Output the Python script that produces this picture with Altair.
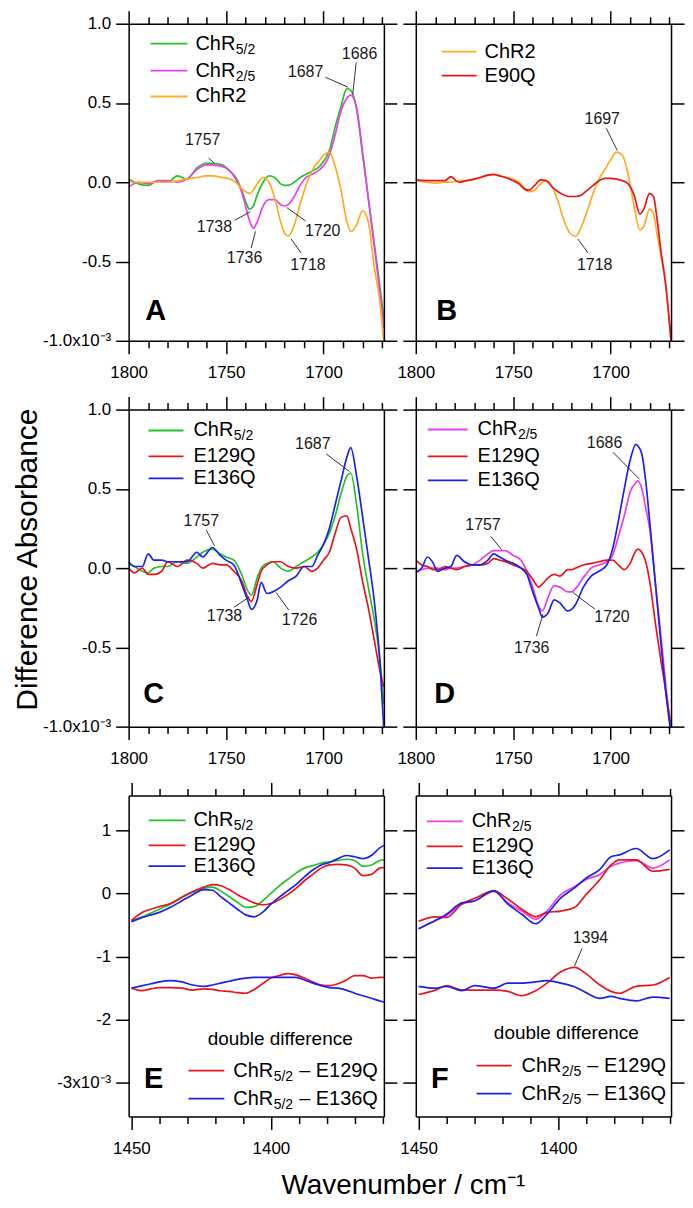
import altair as alt
import pandas as pd

FONT = "Liberation Sans"

# ---------------- data (difference absorbance, x10^-3) ----------------
# Panel A
A_WN = [1800, 1795, 1790, 1785, 1780, 1775, 1770, 1765, 1760, 1757, 1752, 1748, 1745, 1742, 1740, 1738, 1736,
        1734, 1731, 1728, 1725, 1722, 1720, 1718, 1715, 1712, 1709, 1706, 1702, 1699, 1697, 1694, 1691, 1688,
        1686, 1683, 1680, 1677, 1674, 1671, 1669]
A_CHR52 = [0.02, -0.01, -0.02, 0.01, 0.0, 0.04, 0.02, 0.09, 0.12, 0.12, 0.11, 0.07, 0.03, -0.05, -0.12, -0.17,
           -0.15, -0.08, 0.0, 0.04, 0.03, -0.01, -0.02, -0.02, 0.0, 0.03, 0.05, 0.07, 0.1, 0.15, 0.2, 0.35, 0.48,
           0.59, 0.58, 0.46, 0.18, -0.1, -0.38, -0.66, -0.86]
A_CHR25 = [-0.03, 0.0, -0.01, 0.01, 0.01, 0.0, 0.02, 0.08, 0.11, 0.11, 0.1, 0.07, 0.02, -0.06, -0.15, -0.24,
           -0.29, -0.25, -0.15, -0.11, -0.11, -0.14, -0.15, -0.14, -0.09, -0.02, 0.03, 0.05, 0.08, 0.12, 0.17,
           0.3, 0.45, 0.53, 0.55, 0.47, 0.2, -0.1, -0.4, -0.7, -0.92]
A_CHR2 = [0.0, 0.0, 0.0, 0.0, 0.0, 0.01, 0.02, 0.03, 0.04, 0.04, 0.03, 0.02, 0.0, -0.04, -0.06, -0.07, -0.05,
          -0.01, 0.03, 0.0, -0.1, -0.25, -0.32, -0.34, -0.27, -0.14, -0.02, 0.07, 0.14, 0.18, 0.19, 0.1, -0.05,
          -0.25, -0.31, -0.27, -0.18, -0.25, -0.53, -0.76, -1.02]

# Panel B
B_WN = [1800, 1795, 1790, 1785, 1782, 1778, 1774, 1770, 1766, 1763, 1760, 1757, 1753, 1750, 1747, 1744, 1742,
        1739, 1736, 1733, 1730, 1727, 1724, 1721, 1718, 1715, 1712, 1709, 1706, 1703, 1700, 1697, 1694, 1691,
        1688, 1685, 1683, 1680, 1678, 1676, 1674, 1672, 1669]
B_CHR2 = [0.015, 0.0, -0.005, 0.0, 0.0, 0.01, 0.01, 0.02, 0.03, 0.045, 0.048, 0.04, 0.03, 0.02, 0.0, -0.04,
          -0.06, -0.05, -0.01, 0.01, -0.03, -0.12, -0.24, -0.32, -0.34, -0.28, -0.18, -0.07, 0.02, 0.08, 0.14,
          0.19, 0.17, 0.05, -0.15, -0.3, -0.28, -0.17, -0.2, -0.34, -0.48, -0.62, -1.0]
B_E90Q = [0.015, 0.01, 0.01, 0.01, 0.035, 0.0, 0.01, 0.02, 0.035, 0.045, 0.05, 0.04, 0.025, 0.01, -0.01, -0.045,
          -0.05, -0.02, 0.015, 0.01, -0.03, -0.06, -0.08, -0.09, -0.09, -0.08, -0.05, -0.02, 0.01, 0.025, 0.025,
          0.02, 0.01, -0.01, -0.08, -0.2, -0.17, -0.07, -0.09, -0.25, -0.45, -0.62, -1.0]

# Panel C
C_WN = [1800, 1797, 1793, 1790, 1787, 1783, 1780, 1775, 1770, 1765, 1762, 1757, 1753, 1750, 1746, 1742, 1739,
        1737, 1734, 1732, 1729, 1726, 1722, 1718, 1714, 1710, 1706, 1703, 1700, 1697, 1694, 1691, 1688, 1686,
        1683, 1680, 1677, 1674, 1671, 1669]
C_CHR52 = [0.03, 0.01, -0.02, -0.03, 0.0, 0.01, 0.01, 0.04, 0.03, 0.07, 0.1, 0.12, 0.09, 0.07, 0.05, -0.04,
           -0.14, -0.17, -0.06, 0.0, 0.03, 0.04, 0.0, -0.02, 0.01, 0.04, 0.07, 0.1, 0.15, 0.22, 0.33, 0.47, 0.58,
           0.6, 0.4, 0.1, -0.12, -0.32, -0.58, -0.86]
C_E129Q = [0.0, -0.03, 0.0, -0.04, -0.04, -0.02, 0.04, 0.01, 0.05, 0.03, 0.0, 0.03, 0.02, 0.02, -0.02, -0.08,
           -0.18, -0.21, -0.1, -0.02, 0.02, 0.04, 0.04, 0.01, 0.0, 0.01, -0.02, 0.0, 0.05, 0.1, 0.22, 0.32, 0.33,
           0.25, 0.12, -0.08, -0.25, -0.45, -0.65, -0.75]
C_E136Q = [0.04, 0.01, 0.01, 0.09, 0.05, 0.05, 0.04, 0.04, 0.04, 0.1, 0.07, 0.13, 0.08, 0.05, 0.02, -0.1, -0.2,
           -0.26, -0.2, -0.09, -0.16, -0.15, -0.12, -0.08, -0.05, 0.01, 0.01, 0.08, 0.15, 0.25, 0.4, 0.55, 0.7,
           0.76, 0.58, 0.33, 0.07, -0.2, -0.6, -1.02]

# Panel D
D_WN = [1800, 1797, 1794, 1791, 1789, 1785, 1782, 1779, 1775, 1771, 1767, 1763, 1760, 1757, 1754, 1750, 1746,
        1743, 1740, 1737, 1735, 1732, 1729, 1726, 1722, 1720, 1718, 1714, 1710, 1706, 1702, 1699, 1696, 1693,
        1690, 1687, 1686, 1684, 1682, 1680, 1677, 1674, 1672, 1669]
D_CHR25 = [-0.02, -0.01, 0.0, 0.0, 0.0, -0.01, 0.0, 0.0, 0.01, 0.02, 0.05, 0.09, 0.11, 0.11, 0.11, 0.08, 0.05,
           -0.02, -0.12, -0.24, -0.27, -0.18, -0.11, -0.12, -0.15, -0.15, -0.13, -0.06, 0.0, 0.02, 0.04, 0.08,
           0.2, 0.33, 0.48, 0.54, 0.55, 0.5, 0.38, 0.25, -0.1, -0.45, -0.7, -1.05]
D_E129Q = [0.05, 0.02, 0.01, -0.01, -0.01, 0.01, 0.0, -0.01, 0.01, 0.02, 0.02, 0.03, 0.06, 0.05, 0.04, 0.02, 0.0,
           -0.02, -0.07, -0.12, -0.1, -0.06, -0.04, -0.05, -0.01, -0.01, 0.0, 0.02, 0.03, 0.04, 0.05, 0.05, 0.02,
           -0.01, 0.03, 0.11, 0.12, 0.1, 0.04, -0.08, -0.35, -0.6, -0.75, -1.0]
D_E136Q = [-0.03, 0.0, 0.07, 0.03, -0.02, 0.0, 0.01, 0.08, 0.04, 0.02, 0.02, 0.05, 0.09, 0.07, 0.05, 0.03, 0.0,
           -0.04, -0.15, -0.25, -0.31, -0.28, -0.2, -0.22, -0.27, -0.26, -0.23, -0.12, -0.05, -0.02, 0.02, 0.12,
           0.3, 0.5, 0.68, 0.78, 0.77, 0.72, 0.55, 0.3, -0.1, -0.5, -0.75, -1.05]

# Panel E
E_WN = [1450, 1446, 1443, 1440, 1436, 1432, 1428, 1424, 1421, 1418, 1415, 1412, 1409, 1406, 1403, 1400, 1397,
        1394, 1391, 1388, 1385, 1382, 1379, 1376, 1373, 1370, 1367, 1364, 1361, 1359.5]
E_CHR52 = [-0.43, -0.37, -0.31, -0.25, -0.17, -0.07, 0.02, 0.08, 0.1, 0.04, -0.05, -0.14, -0.22, -0.21, -0.12,
           0.0, 0.12, 0.22, 0.32, 0.4, 0.44, 0.48, 0.5, 0.52, 0.54, 0.52, 0.43, 0.45, 0.52, 0.53]
E_E129Q = [-0.43, -0.3, -0.25, -0.21, -0.16, -0.06, 0.03, 0.1, 0.14, 0.12, 0.06, -0.02, -0.09, -0.15, -0.18,
           -0.16, -0.1, -0.02, 0.08, 0.2, 0.3, 0.4, 0.45, 0.46, 0.45, 0.4, 0.28, 0.3, 0.4, 0.41]
E_E136Q = [-0.45, -0.38, -0.34, -0.3, -0.22, -0.12, -0.02, 0.06, 0.05, -0.05, -0.15, -0.25, -0.34, -0.37, -0.3,
           -0.17, -0.06, 0.04, 0.14, 0.26, 0.37, 0.45, 0.49, 0.55, 0.6, 0.58, 0.55, 0.6, 0.72, 0.76]
E_DD129 = [-1.5, -1.54, -1.51, -1.49, -1.49, -1.5, -1.53, -1.51, -1.52, -1.54, -1.55, -1.57, -1.58, -1.52, -1.43,
           -1.34, -1.3, -1.27, -1.29, -1.34, -1.4, -1.45, -1.46, -1.43, -1.37, -1.3, -1.3, -1.34, -1.33, -1.33]
E_DD136 = [-1.5, -1.46, -1.43, -1.4, -1.38, -1.4, -1.45, -1.47, -1.45, -1.42, -1.39, -1.36, -1.34, -1.33, -1.33,
           -1.33, -1.33, -1.33, -1.33, -1.37, -1.42, -1.46, -1.49, -1.5, -1.53, -1.58, -1.62, -1.66, -1.7, -1.72]

# Panel F
F_WN = [1450, 1444, 1440, 1434.5, 1430, 1423, 1418, 1413, 1408, 1404, 1399, 1394, 1390, 1385, 1381, 1378, 1372,
        1366, 1360]
F_CHR25 = [-0.56, -0.43, -0.35, -0.17, -0.12, 0.03, -0.15, -0.28, -0.41, -0.28, -0.02, 0.11, 0.22, 0.3, 0.43,
           0.48, 0.52, 0.4, 0.53]
F_E129Q = [-0.44, -0.37, -0.38, -0.17, -0.08, 0.04, -0.09, -0.25, -0.37, -0.3, -0.28, -0.22, -0.02, 0.22, 0.45,
           0.53, 0.53, 0.35, 0.38]
F_E136Q = [-0.56, -0.43, -0.33, -0.15, -0.12, 0.04, -0.17, -0.33, -0.48, -0.33, -0.07, 0.09, 0.24, 0.38, 0.58,
           0.61, 0.71, 0.55, 0.69]
F_DD129 = [-1.6, -1.53, -1.46, -1.53, -1.53, -1.53, -1.55, -1.62, -1.54, -1.42, -1.24, -1.17, -1.27, -1.45,
           -1.55, -1.58, -1.47, -1.45, -1.33]
F_DD136 = [-1.47, -1.5, -1.47, -1.54, -1.46, -1.5, -1.42, -1.42, -1.4, -1.38, -1.42, -1.48, -1.57, -1.66, -1.63,
           -1.66, -1.7, -1.64, -1.66]

# peak labels: label, text wn, text value, leader start wn/value, leader end wn/value
A_ANN = [("1757", 1762, 0.266, 1759, 0.152, 1756, 0.12),
         ("1738", 1756, -0.28, 1745.6, -0.24, 1737.6, -0.186),
         ("1736", 1740.5, -0.477, 1737.1, -0.414, 1734.9, -0.31),
         ("1718", 1708, -0.52, 1711.5, -0.446, 1716.6, -0.358),
         ("1720", 1700.4, -0.31, 1709.2, -0.244, 1718.8, -0.16),
         ("1687", 1709.2, 0.694, 1699, 0.6625, 1687.5, 0.6),
         ("1686", 1681.5, 0.808, 1683.2, 0.756, 1685, 0.554)]
B_ANN = [("1697", 1704.3, 0.40, 1702.2, 0.34, 1696.6, 0.2),
         ("1718", 1708.2, -0.525, 1711.6, -0.446, 1716.8, -0.358)]
C_ANN = [("1757", 1762.7, 0.30, 1760.2, 0.24, 1755.9, 0.14),
         ("1738", 1750.8, -0.30, 1746, -0.248, 1737.9, -0.18),
         ("1726", 1712.3, -0.33, 1717.8, -0.265, 1724.3, -0.154),
         ("1687", 1705.5, 0.78, 1698.6, 0.72, 1686.7, 0.61)]
D_ANN = [("1757", 1765.5, 0.27, 1761.5, 0.2, 1756, 0.117),
         ("1686", 1703.1, 0.79, 1698.8, 0.731, 1685.1, 0.56),
         ("1720", 1699.3, -0.31, 1708.2, -0.258, 1719.3, -0.154),
         ("1736", 1740.5, -0.506, 1738.1, -0.43, 1734.7, -0.29)]
F_ANN = [("1394", 1388.4, -0.71, 1391.4, -0.87, 1394.1, -1.15)]

# axis ticks / labels
TOP_X_MAJOR = [1800, 1750, 1700]
TOP_X_MINOR = [1790, 1780, 1770, 1760, 1740, 1730, 1720, 1710, 1690, 1680, 1670]
BOT_X_MAJOR = [1450, 1400]
BOT_X_MINOR = [1440, 1430, 1420, 1410, 1390, 1380, 1370, 1360]
TOP_Y_TICKS = [1.0, 0.5, 0.0, -0.5, -1.0]
TOP_Y_LABELS = ["1.0", "0.5", "0.0", "-0.5", "-1.0x10⁻³"]
BOT_Y_TICKS = [1, 0, -1, -2, -3]
BOT_Y_LABELS = ["1", "0", "-1", "-2", "-3x10⁻³"]

# ---------------- styling ----------------
GREEN, MAGENTA, ORANGE, RED, BLUE = "#22c32a", "#ec3cec", "#ffab21", "#e8161c", "#1c22e8"
SERIES_COLORS = {
    "ChR5/2": GREEN, "ChR2/5": MAGENTA, "ChR2": ORANGE, "E90Q": RED, "E129Q": RED, "E136Q": BLUE,
    "ChR5/2 – E129Q": RED, "ChR5/2 – E136Q": BLUE, "ChR2/5 – E129Q": RED, "ChR2/5 – E136Q": BLUE,
}
COLOR_SCALE = alt.Scale(domain=list(SERIES_COLORS), range=list(SERIES_COLORS.values()))

W = 256
AX = dict(domainColor="black", domainWidth=1.5, tickColor="black", tickWidth=1.5, grid=False,
          labelFont=FONT, labelFontSize=17, labelColor="black", zindex=1)
LEG_FS, SUB_FS, ANN_FS = 20, 14, 16
EM = {"C": 0.722, "h": 0.556, "R": 0.722, "E": 0.667, "Q": 0.778, "/": 0.278, " ": 0.278, "–": 0.556}
for _d in "0123456789":
    EM[_d] = 0.556
ONE = pd.DataFrame({"k": [0]})


def text_w(s, fs):
    return sum(EM.get(ch, 0.556) for ch in s) * fs


def long_df(wn, series):
    rows = []
    for name, vals in series:
        for w, v in zip(wn, vals):
            rows.append({"wn": w, "val": v, "series": name})
    return pd.DataFrame(rows)


def label_expr(vals, labels):
    parts = "".join(f"abs(datum.value - ({v})) < 1e-6 ? '{l}' : " for v, l in zip(vals, labels))
    return parts + "''"


def legend_layers(entries, rows, lx0, lx1, tx):
    out = []
    for (key, main, sub, rest), yy in zip(entries, rows):
        out.append(alt.Chart(ONE).mark_rule(color=SERIES_COLORS[key], strokeWidth=1.8).encode(
            x=alt.value(lx0), x2=alt.value(lx1), y=alt.value(yy)))
        out.append(alt.Chart(ONE).mark_text(align="left", baseline="middle", font=FONT, fontSize=LEG_FS,
                                            color="black").encode(
            x=alt.value(tx), y=alt.value(yy), text=alt.value(main)))
        xx = tx + text_w(main, LEG_FS)
        if sub:
            out.append(alt.Chart(ONE).mark_text(align="left", baseline="middle", font=FONT, fontSize=SUB_FS,
                                                color="black").encode(
                x=alt.value(xx + 0.5), y=alt.value(yy + 6), text=alt.value(sub)))
            xx += text_w(sub, SUB_FS) + 1
        if rest:
            out.append(alt.Chart(ONE).mark_text(align="left", baseline="middle", font=FONT, fontSize=LEG_FS,
                                                color="black").encode(
                x=alt.value(xx + text_w(" ", LEG_FS)), y=alt.value(yy), text=alt.value(rest)))
    return out


def make_panel(df, xdom, xmaj, xmin, ydom, ymaj, ylabels, height, left_labels, ann, legend, letter,
               extra=None, ytitle=None, xtitle=None):
    xs = alt.Scale(domain=xdom, reverse=True, nice=False, zero=False)
    ys = alt.Scale(domain=ydom, nice=False, zero=False)

    xb = dict(orient="bottom", values=xmaj, format="d", tickSize=13, labelPadding=11, labelFlush=False,
              labelOverlap=False, **AX)
    if xtitle:
        xb.update(title=xtitle, titleX=275, titleY=77, titleFont=FONT, titleFontSize=28,
                  titleFontWeight="normal", titleAlign="center", titleBaseline="alphabetic", titleAngle=0,
                  titleColor="black")
    else:
        xb["title"] = None
    yl = dict(orient="left", values=ymaj, tickSize=13, labelPadding=5, labelFlush=False, labelOverlap=False, **AX)
    if left_labels:
        yl["labelExpr"] = label_expr(ymaj, ylabels)
    else:
        yl["labels"] = False
    if ytitle:
        yl.update(title=ytitle, titleX=-86, titleY=150, titleFont=FONT, titleFontSize=30,
                  titleFontWeight="normal", titleAlign="center", titleBaseline="bottom", titleAngle=270,
                  titleColor="black")
    else:
        yl["title"] = None

    lines = alt.Chart(df).mark_line(strokeWidth=1.7, clip=True, interpolate="monotone").encode(
        x=alt.X("wn:Q", scale=xs, axis=alt.Axis(**xb)),
        y=alt.Y("val:Q", scale=ys, axis=alt.Axis(**yl)),
        color=alt.Color("series:N", scale=COLOR_SCALE, legend=None),
    )
    ghost = alt.Chart(df).mark_line(strokeOpacity=0, clip=True)
    g1 = ghost.encode(
        x=alt.X("wn:Q", scale=xs, axis=alt.Axis(orient="bottom", values=xmin, tickSize=7, labels=False,
                                                domain=False, title=None, **AX)),
        y=alt.Y("val:Q", scale=ys, axis=alt.Axis(orient="right", values=ymaj, tickSize=13, labels=False,
                                                 title=None, **AX)),
        detail="series:N")
    g2 = ghost.encode(
        x=alt.X("wn:Q", scale=xs, axis=alt.Axis(orient="top", values=xmaj, tickSize=13, labels=False,
                                                title=None, **AX)),
        y=alt.Y("val:Q", scale=ys, axis=None), detail="series:N")
    g3 = ghost.encode(
        x=alt.X("wn:Q", scale=xs, axis=alt.Axis(orient="top", values=xmin, tickSize=7, labels=False,
                                                domain=False, title=None, **AX)),
        y=alt.Y("val:Q", scale=ys, axis=None), detail="series:N")

    layers = [lines, g1, g2, g3]
    if ann:
        adf = pd.DataFrame(ann, columns=["label", "tx", "ty", "x1", "y1", "x2", "y2"])
        layers.append(alt.Chart(adf).mark_rule(color="#333333", strokeWidth=1).encode(
            x=alt.X("x1:Q", scale=xs, axis=None), x2="x2:Q",
            y=alt.Y("y1:Q", scale=ys, axis=None), y2="y2:Q"))
        layers.append(alt.Chart(adf).mark_text(font=FONT, fontSize=ANN_FS, color="#1a1a1a").encode(
            x=alt.X("tx:Q", scale=xs, axis=None), y=alt.Y("ty:Q", scale=ys, axis=None), text="label:N"))
    layers += legend_layers(*legend)
    if extra:
        layers += extra
    lx, ly, lt = letter
    layers.append(alt.Chart(ONE).mark_text(font=FONT, fontSize=29, fontWeight="bold", align="center",
                                           baseline="middle", color="black").encode(
        x=alt.value(lx), y=alt.value(ly), text=alt.value(lt)))
    return alt.layer(*layers).resolve_axis(x="independent", y="independent").properties(width=W, height=height)


def dd_extra(entries, title_x, title_y, rows, lx0, lx1, tx):
    out = [alt.Chart(ONE).mark_text(font=FONT, fontSize=19, align="center", baseline="middle",
                                    color="black").encode(
        x=alt.value(title_x), y=alt.value(title_y), text=alt.value("double difference"))]
    out += legend_layers(entries, rows, lx0, lx1, tx)
    return out


TOP_XD = [1669, 1800]
BOT_XD = [1359.5, 1451]
H1, H2, H3 = 318, 318, 322

pA = make_panel(long_df(A_WN, [("ChR5/2", A_CHR52), ("ChR2/5", A_CHR25), ("ChR2", A_CHR2)]),
                TOP_XD, TOP_X_MAJOR, TOP_X_MINOR, [-1, 1], TOP_Y_TICKS, TOP_Y_LABELS, H1, True, A_ANN,
                ([("ChR5/2", "ChR", "5/2", ""), ("ChR2/5", "ChR", "2/5", ""), ("ChR2", "ChR2", "", "")],
                 [20, 47, 73], 22, 59, 67), (27, 288, "A"))
pB = make_panel(long_df(B_WN, [("ChR2", B_CHR2), ("E90Q", B_E90Q)]),
                TOP_XD, TOP_X_MAJOR, TOP_X_MINOR, [-1, 1], TOP_Y_TICKS, TOP_Y_LABELS, H1, False, B_ANN,
                ([("ChR2", "ChR2", "", ""), ("E90Q", "E90Q", "", "")], [28, 52], 26, 61, 69), (31, 288, "B"))
pC = make_panel(long_df(C_WN, [("ChR5/2", C_CHR52), ("E129Q", C_E129Q), ("E136Q", C_E136Q)]),
                TOP_XD, TOP_X_MAJOR, TOP_X_MINOR, [-1, 1], TOP_Y_TICKS, TOP_Y_LABELS, H2, True, C_ANN,
                ([("ChR5/2", "ChR", "5/2", ""), ("E129Q", "E129Q", "", ""), ("E136Q", "E136Q", "", "")],
                 [21, 47, 69], 20, 55, 65), (25, 285, "C"), ytitle="Difference Absorbance")
pD = make_panel(long_df(D_WN, [("ChR2/5", D_CHR25), ("E129Q", D_E129Q), ("E136Q", D_E136Q)]),
                TOP_XD, TOP_X_MAJOR, TOP_X_MINOR, [-1, 1], TOP_Y_TICKS, TOP_Y_LABELS, H2, False, D_ANN,
                ([("ChR2/5", "ChR", "2/5", ""), ("E129Q", "E129Q", "", ""), ("E136Q", "E136Q", "", "")],
                 [20, 47, 71], 12, 52, 62), (29, 285, "D"))
pE = make_panel(long_df(E_WN, [("ChR5/2", E_CHR52), ("E129Q", E_E129Q), ("E136Q", E_E136Q),
                               ("ChR5/2 – E129Q", E_DD129), ("ChR5/2 – E136Q", E_DD136)]),
                BOT_XD, BOT_X_MAJOR, BOT_X_MINOR, [-3.53, 1.55], BOT_Y_TICKS, BOT_Y_LABELS, H3, True, None,
                ([("ChR5/2", "ChR", "5/2", ""), ("E129Q", "E129Q", "", ""), ("E136Q", "E136Q", "", "")],
                 [25, 50, 71], 20, 57, 65), (25, 284, "E"),
                extra=dd_extra([("ChR5/2 – E129Q", "ChR", "5/2", "– E129Q"),
                                ("ChR5/2 – E136Q", "ChR", "5/2", "– E136Q")], 152, 244, [276, 304], 60, 96, 105),
                xtitle="Wavenumber / cm⁻¹")
pF = make_panel(long_df(F_WN, [("ChR2/5", F_CHR25), ("E129Q", F_E129Q), ("E136Q", F_E136Q),
                               ("ChR2/5 – E129Q", F_DD129), ("ChR2/5 – E136Q", F_DD136)]),
                BOT_XD, BOT_X_MAJOR, BOT_X_MINOR, [-3.53, 1.55], BOT_Y_TICKS, BOT_Y_LABELS, H3, False, F_ANN,
                ([("ChR2/5", "ChR", "2/5", ""), ("E129Q", "E129Q", "", ""), ("E136Q", "E136Q", "", "")],
                 [26, 51, 73], 11, 47, 56), (24, 284, "F"),
                extra=dd_extra([("ChR2/5 – E129Q", "ChR", "2/5", "– E129Q"),
                                ("ChR2/5 – E136Q", "ChR", "2/5", "– E136Q")], 151, 238, [271, 299], 61, 96, 106))

chart = alt.concat(pA, pB, pC, pD, pE, pF, columns=2, spacing={"row": 69, "column": 32},
                   bounds="flush").properties(
    padding={"left": 4, "top": 0, "right": 0, "bottom": 0}, background="white"
).configure(font=FONT).configure_view(strokeWidth=0)

chart.save("out.html", embed_options={"renderer": "svg", "actions": False})
